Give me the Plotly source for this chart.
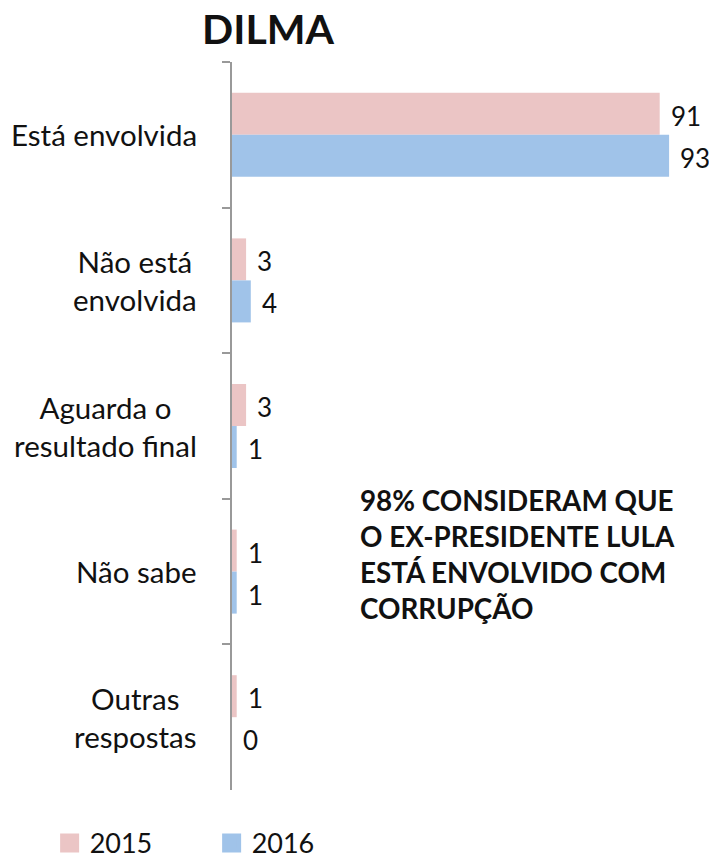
import plotly.graph_objects as go

categories = ["Está envolvida", "Não está<br>envolvida", "Aguarda o<br>resultado final", "Não sabe", "Outras<br>respostas"]
values_2015 = [91, 3, 3, 1, 1]
values_2016 = [93, 4, 1, 1, 0]
series_names = ["2015", "2016"]
colors = ["#EBC5C5", "#A0C3E9"]
title_text = "DILMA"
note_text = "98% CONSIDERAM QUE<br>O EX-PRESIDENTE LULA<br>ESTÁ ENVOLVIDO COM<br>CORRUPÇÃO"

FONT = "Lato"

fig = go.Figure()
for name, vals, col in zip(series_names, [values_2015, values_2016], colors):
    fig.add_trace(go.Bar(
        y=categories, x=vals, name=name, orientation="h",
        marker=dict(color=col, line=dict(width=0)),
        showlegend=False, hoverinfo="skip",
    ))
# legend entries (larger square symbols)
for name, col in zip(series_names, colors):
    fig.add_trace(go.Scatter(
        x=[None], y=[None], mode="markers", name=name,
        marker=dict(symbol="square", size=14, color=col, line=dict(color=col, width=5)),
        showlegend=True,
    ))

annotations = []
# category labels
for cat in categories:
    annotations.append(dict(
        xref="paper", x=0, xshift=-33, xanchor="right",
        yref="y", y=cat, yanchor="middle",
        text=cat, showarrow=False, align="center",
        font=dict(family=FONT, size=29.5, color="#111111"),
    ))
# value labels
for vals, ys in [(values_2015, 21), (values_2016, -21)]:
    for cat, v in zip(categories, vals):
        annotations.append(dict(
            xref="x", x=v, xshift=9, xanchor="left",
            yref="y", y=cat, yshift=ys - 2, yanchor="middle",
            text=str(v), showarrow=False,
            font=dict(family=FONT, size=26, color="#111111"),
        ))
annotations.append(dict(
    xref="paper", x=0.268, xanchor="left",
    yref="paper", y=0.423, yanchor="top",
    text="<b>" + note_text + "</b>", showarrow=False, align="left",
    font=dict(family=FONT, size=27.8, color="#111111"),
))

fig.update_layout(
    width=709, height=865,
    margin=dict(l=232, r=7, t=62, b=75, autoexpand=False),
    paper_bgcolor="white", plot_bgcolor="white",
    barmode="group", bargap=0.423, bargroupgap=0,
    title=dict(text="<b>" + title_text + "</b>", xref="container", x=0.378, xanchor="center",
               yref="container", y=0.966, yanchor="middle",
               font=dict(family=FONT, size=41, color="#111111")),
    xaxis=dict(range=[0, 100], visible=False, fixedrange=True),
    yaxis=dict(autorange="reversed", showticklabels=False, showgrid=False, zeroline=False,
               showline=True, linecolor="#999999", linewidth=2, fixedrange=True,
               ticks="outside", tickson="boundaries", ticklen=8, tickwidth=2, tickcolor="#999999"),
    legend=dict(orientation="h", xref="container", yref="paper", x=0.070, y=-0.107,
                xanchor="left", yanchor="bottom", itemsizing="trace",
                font=dict(family=FONT, size=27, color="#111111"),
                entrywidth=117, entrywidthmode="pixels", tracegroupgap=0),
    annotations=annotations,
    font=dict(family=FONT),
)

fig.write_html("out.html", config={"displayModeBar": False, "staticPlot": True},
               post_script="document.body.style.margin='0';document.body.style.overflow='hidden';")
